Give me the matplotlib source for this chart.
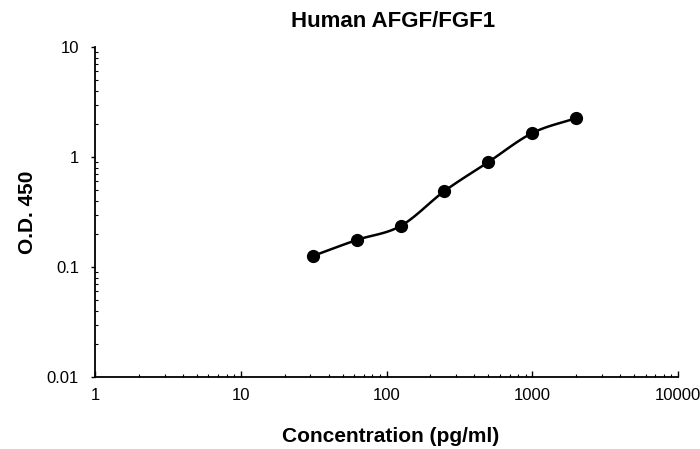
import numpy as np
import matplotlib
matplotlib.use("Agg")
import matplotlib.pyplot as plt
from matplotlib.ticker import LogLocator, NullFormatter, FixedFormatter, FixedLocator

plt.rcParams['font.family'] = ['Liberation Sans', 'DejaVu Sans']

conc = [31.25, 62.5, 125, 250, 500, 1000, 2000]
od = [0.126, 0.176, 0.236, 0.49, 0.90, 1.65, 2.26]
title = "Human AFGF/FGF1"
xlabel = "Concentration (pg/ml)"
ylabel = "O.D. 450"
xticks = [1, 10, 100, 1000, 10000]
xticklabels = ["1", "10", "100", "1000", "10000"]
yticks = [0.01, 0.1, 1, 10]
yticklabels = ["0.01", "0.1", "1", "10"]


def catmull_rom(x, y, n=20):
    x = np.asarray(x, float)
    y = np.asarray(y, float)
    P = np.column_stack([x, y])
    P = np.vstack([P[0] - (P[1] - P[0]), P, P[-1] + (P[-1] - P[-2])])
    out = []
    t = np.linspace(0, 1, n, endpoint=False)
    for i in range(1, len(P) - 2):
        p0, p1, p2, p3 = P[i - 1], P[i], P[i + 1], P[i + 2]
        tt = t[:, None]
        seg = 0.5 * ((2 * p1) + (-p0 + p2) * tt + (2 * p0 - 5 * p1 + 4 * p2 - p3) * tt ** 2
                     + (-p0 + 3 * p1 - 3 * p2 + p3) * tt ** 3)
        out.append(seg)
    out.append(P[-2][None, :])
    out = np.vstack(out)
    return out[:, 0], out[:, 1]


W, H = 700, 449
fig = plt.figure(figsize=(W / 100, H / 100), dpi=100)
ax = fig.add_axes([95 / W, 1 - 377 / H, (678 - 95) / W, (377 - 47) / H])

lx, ly = catmull_rom(np.log10(conc), np.log10(od))
ax.plot(10 ** lx, 10 ** ly, color='black', lw=1.8, solid_capstyle='round', zorder=2)
ax.plot(conc, od, 'o', color='black', markersize=8.5, zorder=3)

ax.set_xscale('log')
ax.set_yscale('log')
ax.set_xlim(1, 10000)
ax.set_ylim(0.01, 10)

ax.xaxis.set_major_locator(FixedLocator(xticks))
ax.xaxis.set_major_formatter(FixedFormatter(xticklabels))
ax.yaxis.set_major_locator(FixedLocator(yticks))
ax.yaxis.set_major_formatter(FixedFormatter(yticklabels))
ax.xaxis.set_minor_locator(LogLocator(base=10, subs=np.arange(2, 10), numticks=20))
ax.yaxis.set_minor_locator(LogLocator(base=10, subs=np.arange(2, 10), numticks=20))
ax.xaxis.set_minor_formatter(NullFormatter())
ax.yaxis.set_minor_formatter(NullFormatter())

for s in ['top', 'right']:
    ax.spines[s].set_visible(False)
for s in ['left', 'bottom']:
    ax.spines[s].set_linewidth(1.3)

ax.tick_params(axis='x', which='major', direction='in', length=4, width=1.0, labelsize=12, pad=8)
ax.tick_params(axis='x', which='minor', direction='in', length=2.5, width=0.8)
ax.tick_params(axis='y', which='major', direction='out', length=3, width=1.0, labelsize=12, pad=8.5)
ax.tick_params(axis='y', which='minor', direction='in', length=2, width=0.8)

fig.text(393 / W, 1 - 27 / H, title, fontsize=16, fontweight='bold', ha='center', va='baseline')
fig.text(390.5 / W, 1 - 442 / H, xlabel, fontsize=15, fontweight='bold', ha='center', va='baseline')
fig.text(33 / W, 1 - 212 / H, ylabel, fontsize=15, fontweight='bold', ha='center', va='baseline',
         rotation=90, rotation_mode='anchor')

fig.savefig('out.png', dpi=100)
